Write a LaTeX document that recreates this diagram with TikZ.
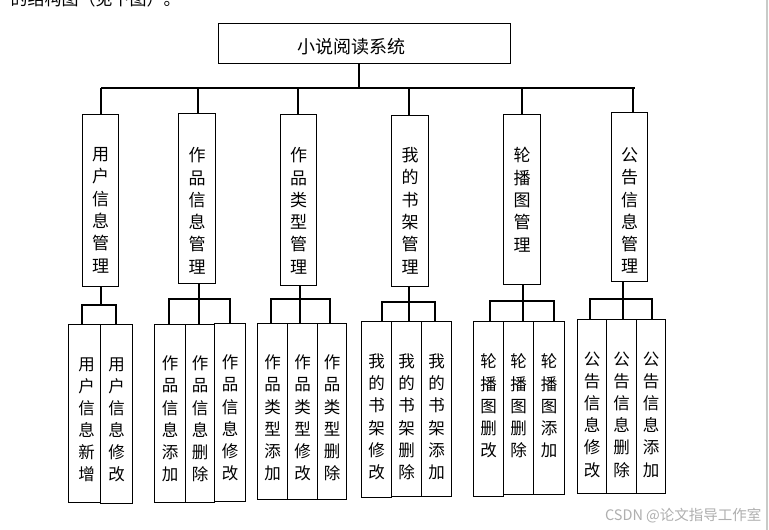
\documentclass[tikz,border=0pt]{standalone}
\usepackage{fontspec}
\newfontfamily\cjk{Noto Sans CJK SC}
\definecolor{wm}{RGB}{175,175,175}
\definecolor{edge}{RGB}{200,203,200}
\newcommand\mybox[5]{\node[box,minimum width={(#3-#2)*1pt},minimum height={(#5-#4)*1pt}] (#1) at (#2,#4) {};}
\begin{document}
\begin{tikzpicture}[x=1pt,y=-1pt,line width=1.1pt,
  box/.style={draw,line width=1.1pt,inner sep=0pt,anchor=north west},
  vtA/.style={align=center,inner sep=0pt,anchor=north,font=\cjk\fontsize{17}{22.3}\selectfont},
  vtB/.style={align=center,inner sep=0pt,anchor=north,font=\cjk\fontsize{16.5}{22.1}\selectfont},
  conn/.style={draw,line width=1.1pt}]
\useasboundingbox (0,0) rectangle (769,530);
\clip (0,0) rectangle (769,530);
\fill[white] (0,0) rectangle (769,530);
% partially visible text above
\node[anchor=base west,inner sep=0pt,font=\cjk\fontsize{17}{20}\selectfont] (intro) at (10,5.5) {的结构图（见下图）。};
% page edge
\draw[edge,line width=1.5pt] (767,0) -- (767,530);
% root
\mybox{top}{218}{510}{23}{63}
\node[inner sep=0pt,font=\cjk\fontsize{18}{20}\selectfont] (title) at (351,47) {小说阅读系统};
% level 2
\mybox{b1}{82}{118}{114}{286}
\mybox{b2}{178}{215}{113}{283}
\mybox{b3}{280}{316}{114}{285}
\mybox{b4}{391}{428}{115}{286}
\mybox{b5}{503}{540}{114}{284}
\mybox{b6}{611}{647}{112}{281}
\node[vtA] (t1) at ([yshift=-33pt]b1.north) {用\\户\\信\\息\\管\\理};
\node[vtA] (t2) at ([yshift=-34pt]b2.north) {作\\品\\信\\息\\管\\理};
\node[vtA] (t3) at ([yshift=-33pt]b3.north) {作\\品\\类\\型\\管\\理};
\node[vtA] (t4) at ([yshift=-32pt]b4.north) {我\\的\\书\\架\\管\\理};
\node[vtA] (t5) at ([yshift=-33pt]b5.north) {轮\\播\\图\\管\\理};
\node[vtA] (t6) at ([yshift=-35pt]b6.north) {公\\告\\信\\息\\管\\理};
% level 1 connectors
\coordinate (bar) at (359,88);
\coordinate (barL) at (101,88);
\coordinate (barR) at (635,88);
\draw[conn] (bar |- top.south) -- (359,89);
\draw[conn] (barL) -- (barR);
\foreach \dx/\bn in {101/b1,198/b2,298/b3,409/b4,522/b5,633/b6}
  \draw[conn] (\dx,88) -- (\dx,88 |- \bn.north);
% level 3 boxes
\mybox{c1a}{68}{100}{324}{502}
\mybox{c1b}{100}{132}{324}{503}
\mybox{c2a}{154}{185}{324}{502}
\mybox{c2b}{185}{214}{324}{502}
\mybox{c2c}{214}{245}{323}{501}
\mybox{c3a}{257}{287}{323}{499}
\mybox{c3b}{287}{317}{323}{499}
\mybox{c3c}{317}{346}{323}{499}
\mybox{c4a}{361}{391}{321}{497}
\mybox{c4b}{391}{421}{321}{496}
\mybox{c4c}{421}{451}{321}{496}
\mybox{c5a}{473}{503}{321}{496}
\mybox{c5b}{503}{533}{321}{494}
\mybox{c5c}{533}{564}{321}{494}
\mybox{c6a}{577}{606}{319}{493}
\mybox{c6b}{606}{636}{319}{493}
\mybox{c6c}{636}{665}{319}{493}
% level 3 texts
\node[vtB] (u1a) at ([xshift=2pt,yshift=-33pt]c1a.north) {用\\户\\信\\息\\新\\增};
\node[vtB] (u1b) at ([yshift=-33pt]c1b.north) {用\\户\\信\\息\\修\\改};
\node[vtB] (u2a) at ([yshift=-31.5pt]c2a.north) {作\\品\\信\\息\\添\\加};
\node[vtB] (u2b) at ([yshift=-31.5pt]c2b.north) {作\\品\\信\\息\\删\\除};
\node[vtB] (u2c) at ([yshift=-31.5pt]c2c.north) {作\\品\\信\\息\\修\\改};
\node[vtB] (u3a) at ([yshift=-31.5pt]c3a.north) {作\\品\\类\\型\\添\\加};
\node[vtB] (u3b) at ([yshift=-31.5pt]c3b.north) {作\\品\\类\\型\\修\\改};
\node[vtB] (u3c) at ([yshift=-31.5pt]c3c.north) {作\\品\\类\\型\\删\\除};
\node[vtB] (u4a) at ([yshift=-32.5pt]c4a.north) {我\\的\\书\\架\\修\\改};
\node[vtB] (u4b) at ([yshift=-32.5pt]c4b.north) {我\\的\\书\\架\\删\\除};
\node[vtB] (u4c) at ([yshift=-32.5pt]c4c.north) {我\\的\\书\\架\\添\\加};
\node[vtB] (u5a) at ([yshift=-32.5pt]c5a.north) {轮\\播\\图\\删\\改};
\node[vtB] (u5b) at ([yshift=-32.5pt]c5b.north) {轮\\播\\图\\删\\除};
\node[vtB] (u5c) at ([yshift=-32.5pt]c5c.north) {轮\\播\\图\\添\\加};
\node[vtB] (u6a) at ([yshift=-32.5pt]c6a.north) {公\\告\\信\\息\\修\\改};
\node[vtB] (u6b) at ([yshift=-32.5pt]c6b.north) {公\\告\\信\\息\\删\\除};
\node[vtB] (u6c) at ([yshift=-32.5pt]c6c.north) {公\\告\\信\\息\\添\\加};
% group 1 connectors
\coordinate (s1) at (101,305);
\draw[conn] (s1 |- b1.south) -- (s1);
\draw[conn] (82,305 |- c1a.north) -- (82,305) -- (116,305) -- (116,305 |- c1b.north);
% groups 2-6 connectors
\foreach \g/\sx/\by/\lx/\rx in {2/199/299/169/230, 3/300/299/271/330, 4/409/302/382/435, 5/523/301/490/554, 6/623/299/590/652}{
  \draw[conn] (\sx,\by |- b\g.south) -- (\sx,\by |- c\g b.north);
  \draw[conn] (\lx,\by |- c\g a.north) -- (\lx,\by) -- (\rx,\by) -- (\rx,\by |- c\g c.north);
}
% watermark
\node[anchor=east,inner sep=0pt,text=wm,font=\cjk\fontsize{14.5}{16}\selectfont] (wmark) at (762,516) {CSDN @论文指导工作室};
\end{tikzpicture}
\end{document}
